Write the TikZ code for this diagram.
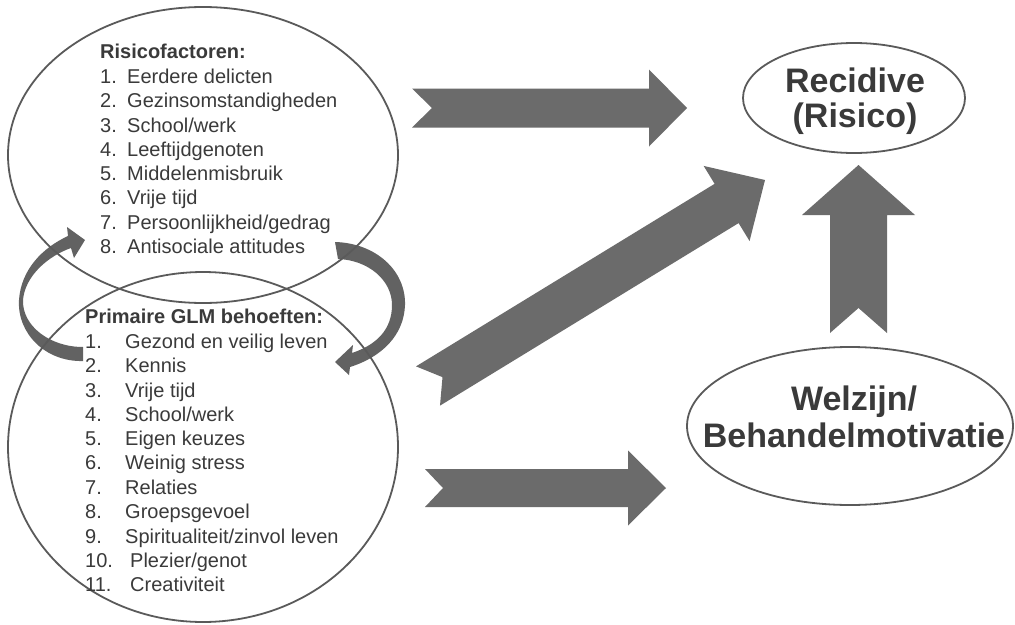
\documentclass[tikz,border=0pt]{standalone}
\usepackage{fontspec}
\setmainfont{Liberation Sans}
\usetikzlibrary{shapes.geometric,calc}
\definecolor{arrowgray}{HTML}{6B6B6B}
\definecolor{curvegray}{HTML}{626262}
\definecolor{linegray}{HTML}{5A5A5A}
\definecolor{txt}{HTML}{3A3A3A}
\newcommand\blockarr[6]{% tail, tip, shaft half width, head half width, head length, notch depth
  \coordinate (ba-h) at ($(#2)!#5!(#1)$);
  \fill[arrowgray] ($(#1)!#3!90:(#2)$) -- ($(ba-h)!#3!90:(#2)$) -- ($(ba-h)!#4!90:(#2)$) -- (#2)
    -- ($(ba-h)!#4!-90:(#2)$) -- ($(ba-h)!#3!-90:(#2)$) -- ($(#1)!#3!-90:(#2)$) -- ($(#1)!#6!(#2)$) -- cycle;
}
\tikzset{
  bigell/.style={draw=linegray, line width=1.8pt, ellipse, inner sep=0pt},
  item/.style={anchor=base west, inner sep=0pt, font=\fontsize{20}{24}\selectfont, text=txt},
  head/.style={item, font=\fontsize{20}{24}\selectfont\bfseries},
  title/.style={anchor=base, inner sep=0pt, font=\fontsize{34}{38}\selectfont\bfseries, text=txt},
}
\begin{document}
\begin{tikzpicture}[x=1pt,y=-1pt]
\useasboundingbox (0,0) rectangle (1015,624);
\fill[white] (0,0) rectangle (1015,624);

% curved arrows between the two ellipses
\coordinate (la-tail) at (83,354);
\coordinate (la-tip) at (85,240);
\fill[curvegray] (83,361) .. controls (45,362) and (17,333) .. (19,300)
  .. controls (21,270) and (42,248) .. (68,236) -- (67,227) -- (la-tip) -- (74,258) -- (71,248)
  .. controls (48,256) and (25,276) .. (23,300)
  .. controls (22,326) and (50,347) .. (83,347) -- cycle;
\coordinate (ra-tail) at (336,250);
\coordinate (ra-tip) at (335,362);
\fill[curvegray] (335,242) .. controls (375,243) and (406,270) .. (405,305)
  .. controls (404,335) and (382,357) .. (350,367) -- (349,375) -- (ra-tip) -- (353,345) -- (352,353)
  .. controls (376,345) and (392,330) .. (392,305)
  .. controls (392,280) and (368,260) .. (338,259) -- cycle;

% ellipses
\node[bigell, minimum width=390pt, minimum height=296pt] (risk) at (203,155) {};
\node[bigell, minimum width=390pt, minimum height=350pt] (glm) at (203,447) {};
\node[bigell, minimum width=222pt, minimum height=110pt] (rec) at (854,98) {};
\node[bigell, minimum width=326pt, minimum height=158pt] (wel) at (850,426) {};

% block arrows
\coordinate (a1t) at (412,108);  \coordinate (a1h) at (687,108);
\blockarr{a1t}{a1h}{19.5pt}{38.5pt}{38pt}{20pt}
\coordinate (a2t) at (428,386);  \coordinate (a2h) at (765,180);
\blockarr{a2t}{a2h}{23pt}{44pt}{45pt}{17pt}
\coordinate (a3t) at (425,488);  \coordinate (a3h) at (666,488);
\blockarr{a3t}{a3h}{19pt}{37.5pt}{38pt}{18pt}
\coordinate (a4t) at (858.5,333);  \coordinate (a4h) at (858.5,165);
\blockarr{a4t}{a4h}{28.5pt}{56.5pt}{50pt}{25pt}

% risk factors
\node[head] (rh) at (100,58) {Risicofactoren:};
\node[item] (r1) at (100,83)  {\makebox[27pt][l]{1.}Eerdere delicten};
\node[item] (r2) at (100,107) {\makebox[27pt][l]{2.}Gezinsomstandigheden};
\node[item] (r3) at (100,132) {\makebox[27pt][l]{3.}School/werk};
\node[item] (r4) at (100,156) {\makebox[27pt][l]{4.}Leeftijdgenoten};
\node[item] (r5) at (100,180) {\makebox[27pt][l]{5.}Middelenmisbruik};
\node[item] (r6) at (100,204) {\makebox[27pt][l]{6.}Vrije tijd};
\node[item] (r7) at (100,229) {\makebox[27pt][l]{7.}Persoonlijkheid/gedrag};
\node[item] (r8) at (100,253) {\makebox[27pt][l]{8.}Antisociale attitudes};

% GLM needs
\node[head] (gh) at (85,323) {Primaire GLM behoeften:};
\node[item] (g1) at (85,348)  {\makebox[40pt][l]{1.}Gezond en veilig leven};
\node[item] (g2) at (85,372)  {\makebox[40pt][l]{2.}Kennis};
\node[item] (g3) at (85,397)  {\makebox[40pt][l]{3.}Vrije tijd};
\node[item] (g4) at (85,421)  {\makebox[40pt][l]{4.}School/werk};
\node[item] (g5) at (85,445)  {\makebox[40pt][l]{5.}Eigen keuzes};
\node[item] (g6) at (85,469)  {\makebox[40pt][l]{6.}Weinig stress};
\node[item] (g7) at (85,494)  {\makebox[40pt][l]{7.}Relaties};
\node[item] (g8) at (85,518)  {\makebox[40pt][l]{8.}Groepsgevoel};
\node[item] (g9) at (85,543)  {\makebox[40pt][l]{9.}Spiritualiteit/zinvol leven};
\node[item] (g10) at (85,567) {\makebox[45pt][l]{10.}Plezier/genot};
\node[item] (g11) at (85,591) {\makebox[45pt][l]{11.}Creativiteit};

% outcome labels
\node[title] (rect1) at (855,92) {Recidive};
\node[title] (rect2) at (855,127) {(Risico)};
\node[title] (welt1) at (854,410) {Welzijn/};
\node[title] (welt2) at (854,447) {Behandelmotivatie};
\end{tikzpicture}
\end{document}
